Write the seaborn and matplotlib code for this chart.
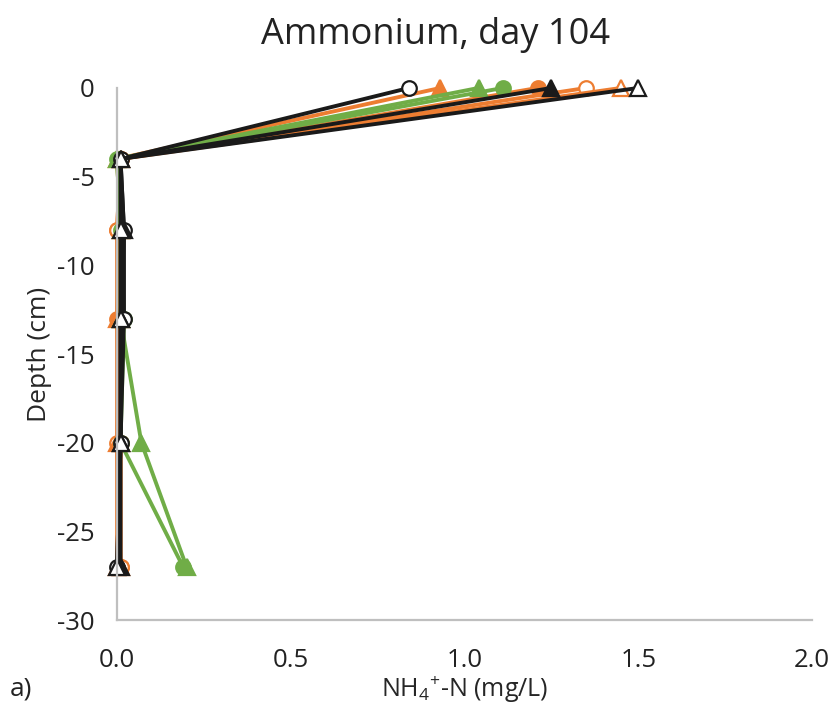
import matplotlib
matplotlib.use("Agg")
import matplotlib.pyplot as plt
import seaborn as sns
import pandas as pd

depth = [0, -4, -8, -13, -20, -27]

orange_filled_circle = [1.21, 0.01, 0.00, 0.00, 0.01, 0.01]
orange_open_circle = [1.35, 0.01, 0.00, 0.01, 0.00, 0.01]
orange_filled_triangle = [0.93, 0.00, 0.01, 0.00, 0.00, 0.00]
orange_open_triangle = [1.45, 0.01, 0.01, 0.01, 0.01, 0.01]
green_filled_circle = [1.11, 0.00, 0.01, 0.02, 0.01, 0.19]
green_filled_triangle = [1.04, 0.00, 0.01, 0.01, 0.07, 0.20]
black_open_circle = [0.84, 0.01, 0.02, 0.02, 0.01, 0.00]
black_filled_triangle = [1.25, 0.01, 0.02, 0.01, 0.01, 0.01]
black_open_triangle = [1.50, 0.01, 0.01, 0.01, 0.01, 0.00]

series = [
    ("orange_filled_circle", orange_filled_circle, "#ED7D31", "o", True),
    ("orange_open_circle", orange_open_circle, "#ED7D31", "o", False),
    ("orange_filled_triangle", orange_filled_triangle, "#ED7D31", "^", True),
    ("orange_open_triangle", orange_open_triangle, "#ED7D31", "^", False),
    ("green_filled_circle", green_filled_circle, "#70AD47", "o", True),
    ("green_filled_triangle", green_filled_triangle, "#70AD47", "^", True),
    ("black_open_circle", black_open_circle, "#1a1a1a", "o", False),
    ("black_filled_triangle", black_filled_triangle, "#1a1a1a", "^", True),
    ("black_open_triangle", black_open_triangle, "#1a1a1a", "^", False),
]

x_ticks = [0.0, 0.5, 1.0, 1.5, 2.0]
x_tick_labels = ["0.0", "0.5", "1.0", "1.5", "2.0"]
y_ticks = [0, -5, -10, -15, -20, -25, -30]
y_tick_labels = ["0", "-5", "-10", "-15", "-20", "-25", "-30"]

rows = []
for name, vals, _, _, _ in series:
    for d, v in zip(depth, vals):
        rows.append({"series": name, "conc": v, "depth": d})
df = pd.DataFrame(rows)

sns.set_theme(style="white")
plt.rcParams['font.family'] = ['Open Sans', 'DejaVu Sans']
plt.rcParams['mathtext.fontset'] = 'custom'
plt.rcParams['mathtext.rm'] = 'Open Sans'
plt.rcParams['mathtext.it'] = 'Open Sans'
plt.rcParams['text.color'] = '#222222'

fig = plt.figure(figsize=(8.33, 7.21), dpi=100)
ax = fig.add_axes([0.1405, 0.140, 0.8345, 0.738])

for name, vals, color, marker, filled in series:
    sub = df[df["series"] == name]
    sns.lineplot(data=sub, x="conc", y="depth", sort=False, estimator=None,
                 ax=ax, color=color, linewidth=2.8, marker=marker,
                 markersize=10.5 if marker == "o" else 11.5,
                 markerfacecolor=color if filled else "white",
                 markeredgecolor=color, markeredgewidth=1.6,
                 clip_on=False, legend=False)

ax.set_xlim(0, 2.0)
ax.set_ylim(-30, 0)
ax.set_xticks(x_ticks)
ax.set_xticklabels(x_tick_labels)
ax.set_yticks(y_ticks)
ax.set_yticklabels(y_tick_labels)
ax.tick_params(axis="x", length=0, pad=20, labelsize=18.5, labelcolor="#222222")
ax.tick_params(axis="y", length=0, pad=16, labelsize=18.5, labelcolor="#222222")
for s in ["top", "right"]:
    ax.spines[s].set_visible(False)
for s in ["left", "bottom"]:
    ax.spines[s].set_color("#bfbfbf")
    ax.spines[s].set_linewidth(1.6)
ax.grid(False)

ax.set_title("Ammonium, day 104", fontsize=26, pad=32, x=0.458)
ax.set_xlabel("NH$_4$$^{+}$-N (mg/L)", fontsize=18, labelpad=1)
ax.set_ylabel("Depth (cm)", fontsize=19, labelpad=4)
fig.text(0.012, 0.035, "a)", fontsize=19)

fig.savefig("out.png", dpi=100)
